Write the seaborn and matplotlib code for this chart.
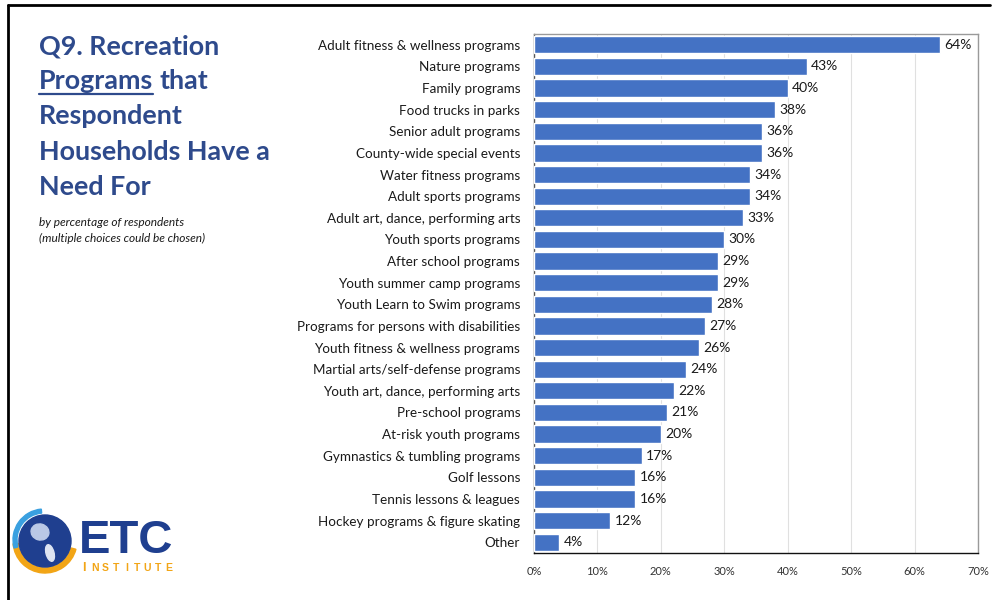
import matplotlib
matplotlib.use("Agg")
import matplotlib.pyplot as plt
import matplotlib.patches as mpatches
from matplotlib.lines import Line2D
import seaborn as sns
import pandas as pd

# Survey results: share of households needing each program
programs = [
    "Adult fitness & wellness programs",
    "Nature programs",
    "Family programs",
    "Food trucks in parks",
    "Senior adult programs",
    "County-wide special events",
    "Water fitness programs",
    "Adult sports programs",
    "Adult art, dance, performing arts",
    "Youth sports programs",
    "After school programs",
    "Youth summer camp programs",
    "Youth Learn to Swim programs",
    "Programs for persons with disabilities",
    "Youth fitness & wellness programs",
    "Martial arts/self-defense programs",
    "Youth art, dance, performing arts",
    "Pre-school programs",
    "At-risk youth programs",
    "Gymnastics & tumbling programs",
    "Golf lessons",
    "Tennis lessons & leagues",
    "Hockey programs & figure skating",
    "Other",
]
percent = [64, 43, 40, 38, 36, 36, 34, 34, 33, 30, 29, 29, 28, 27,
           26, 24, 22, 21, 20, 17, 16, 16, 12, 4]
x_ticks = [0, 10, 20, 30, 40, 50, 60, 70]
x_tick_labels = [f"{t}%" for t in x_ticks]

df = pd.DataFrame({"program": programs, "percent": percent})

sns.set_theme(style="white")
plt.rcParams["font.family"] = ["Lato", "DejaVu Sans"]

BAR = "#4472C4"
TITLE = "#2E4A8C"
TXT = "#1a1a1a"
LOGO_BLUE = "#1F3F8F"
LOGO_ORANGE = "#F2A516"

fig = plt.figure(figsize=(9.95, 6.0), dpi=100)
ax = fig.add_axes([0.5367, 0.0783, 0.4462, 0.865])

sns.barplot(data=df, x="percent", y="program", color=BAR, width=0.8,
            saturation=1, ax=ax, zorder=3)

ax.set_xlim(0, 70)
ax.set_ylim(len(programs) - 0.5, -0.5)
ax.set_xticks(x_ticks)
ax.set_xticklabels(x_tick_labels, fontsize=8, color="#333333")
ax.tick_params(axis="x", length=0, pad=9)
ax.tick_params(axis="y", length=0, pad=10, labelsize=9.7, labelcolor=TXT)
ax.set_xlabel("")
ax.set_ylabel("")
ax.grid(axis="x", color="#e0e0e0", linewidth=0.8, zorder=0)

for name, sp in ax.spines.items():
    sp.set_visible(True)
    sp.set_linewidth(1.0)
    sp.set_color("#9a9a9a")
ax.spines["bottom"].set_color("#111111")
ax.spines["left"].set_color("#555555")

for i, v in enumerate(percent):
    ax.text(v + 0.7, i, f"{v}%", va="center", ha="left", fontsize=10,
            color=TXT, zorder=4)

# Title block on the left
title_lines = ["Q9. Recreation", None, "Respondent",
               "Households Have a", "Need For"]
ys = [46, 81, 116, 152, 187]
x0 = 39 / 995
tkw = dict(fontsize=19.4, fontweight="bold", color=TITLE, va="center",
           ha="left")
for line, yp in zip(title_lines, ys):
    if line is not None:
        fig.text(x0, 1 - yp / 600, line, **tkw)

fig.canvas.draw()
renderer = fig.canvas.get_renderer()
yp = 1 - 81 / 600
t1 = fig.text(x0, yp, "Programs", **tkw)
bb = t1.get_window_extent(renderer)
fig.text(bb.x1 / fig.bbox.width + 0.006, yp, "that", **tkw)
uy = (bb.y0 - 1) / fig.bbox.height
fig.add_artist(Line2D([bb.x0 / fig.bbox.width, bb.x1 / fig.bbox.width],
                      [uy, uy], color=TITLE, linewidth=1.6))

skw = dict(fontsize=8.6, style="italic", color=TXT, va="center", ha="left")
fig.text(x0, 1 - 222 / 600, "by percentage of respondents", **skw)
fig.text(x0, 1 - 238 / 600, "(multiple choices could be chosen)", **skw)

# Slide frame lines (top and left)
fig.add_artist(Line2D([8 / 995, 990 / 995], [1 - 5 / 600, 1 - 5 / 600],
                      color="black", linewidth=2))
fig.add_artist(Line2D([8 / 995, 8 / 995], [0, 1 - 5 / 600],
                      color="black", linewidth=2))

# Institute logo: globe with swoosh and lettering (y axis points down)
lax = fig.add_axes([0, 0, 1, 1], facecolor="none")
lax.set_xlim(0, 995)
lax.set_ylim(600, 0)
lax.axis("off")
lax.add_patch(mpatches.Wedge((45, 541), 32, 15, 175, width=5,
                             color=LOGO_ORANGE))
lax.add_patch(mpatches.Wedge((44, 540), 31, 165, 265, width=4,
                             color="#3AA0E0"))
lax.add_patch(mpatches.Circle((45, 541), 26, color=LOGO_BLUE))
lax.add_patch(mpatches.Ellipse((40, 532), 18, 16, angle=15,
                               color="#B9C8E6"))
lax.add_patch(mpatches.Ellipse((50, 553), 8, 17, angle=-15,
                               color="#DDE4F2"))
lax.text(79, 541, "ETC", fontsize=34, fontweight="bold", color=LOGO_BLUE,
         va="center", ha="left",
         family=["Liberation Sans", "DejaVu Sans"])
letters = "INSTITUTE"
for k, ch in enumerate(letters):
    lax.text(84 + k * 10.6, 568, ch, fontsize=9 if k == 0 else 7.5,
             fontweight="bold", color=LOGO_ORANGE, va="center", ha="center",
             family=["Liberation Sans", "DejaVu Sans"])

fig.savefig("out.png", dpi=100)
